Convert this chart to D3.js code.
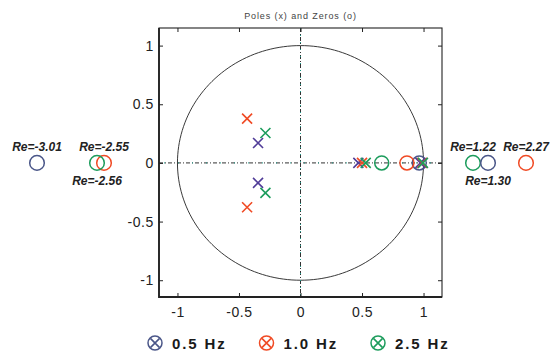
<!DOCTYPE html>
<html>
<head>
<meta charset="utf-8">
<script src="https://cdn.jsdelivr.net/npm/d3@7/dist/d3.min.js"></script>
<style>
  html, body { margin: 0; padding: 0; background: #fff; }
  svg { display: block; font-family: "Liberation Sans", Arial, sans-serif; }
</style>
</head>
<body>
<svg id="chart" width="553" height="354"></svg>
<script>
// Filter designs
const seriesNames = ["0.5 Hz", "1.0 Hz", "2.5 Hz"];
const seriesColors = ["#4a5688", "#f04a24", "#1c9c5c"];
const poleColors = ["#503c98", "#f04a24", "#1c9c5c"];

// Poles [re, im] per design
const poles05 = [[-0.345, 0.17], [-0.345, -0.17], [0.47, 0], [0.975, 0]];
const poles10 = [[-0.434, 0.378], [-0.434, -0.378], [0.50, 0], [0.99, 0]];
const poles25 = [[-0.285, 0.255], [-0.285, -0.255], [0.53, 0], [0.995, 0]];

// Zeros inside the plotted range [re, im]
const zeros05 = [[0.965, 0]];
const zeros10 = [[0.865, 0]];
const zeros25 = [[0.66, 0]];

// Zeros far outside the unit circle (real axis), shown in the margins
const outerZeroSeries = [0, 2, 1, 2, 0, 1];
const outerZeroRe = [-3.01, -2.56, -2.55, 1.22, 1.30, 2.27];

const xTicks = [-1, -0.5, 0, 0.5, 1];
const yTicks = [-1, -0.5, 0, 0.5, 1];
const titleText = "Poles (x) and Zeros (o)";

const poles = [poles05, poles10, poles25];
const zeros = [zeros05, zeros10, zeros25];

const svg = d3.select("#chart");
const box = { left: 159, right: 442, top: 28, bottom: 297 };

const x = d3.scaleLinear().domain([-1.15, 1.15]).range([box.left, box.right]);
const y = d3.scaleLinear().domain([-1.143, 1.15]).range([box.bottom, box.top]);

// Title
svg.append("text")
  .attr("x", x(0)).attr("y", 19)
  .attr("text-anchor", "middle")
  .attr("font-size", 9).attr("letter-spacing", 0.9)
  .attr("fill", "#444")
  .text(titleText);

// Unit circle
const circlePts = d3.range(0, 361, 2).map(a => [Math.cos(a * Math.PI / 180), Math.sin(a * Math.PI / 180)]);
svg.append("path")
  .attr("d", d3.line().x(d => x(d[0])).y(d => y(d[1]))(circlePts))
  .attr("fill", "none").attr("stroke", "#222").attr("stroke-width", 0.9);

// Real and imaginary axes through the origin
svg.append("line")
  .attr("x1", x(-1.15)).attr("x2", x(1.15)).attr("y1", y(0)).attr("y2", y(0))
  .attr("stroke", "#333").attr("stroke-width", 1).attr("stroke-dasharray", "4,2,1,2");
svg.append("line")
  .attr("x1", x(-1.15)).attr("x2", x(1.15)).attr("y1", y(0)).attr("y2", y(0))
  .attr("stroke", "#1a9a8a").attr("stroke-width", 1).attr("stroke-dasharray", "1,13").attr("stroke-dashoffset", -5);
svg.append("line")
  .attr("x1", x(0)).attr("x2", x(0)).attr("y1", y(1.15)).attr("y2", y(-1.143))
  .attr("stroke", "#333").attr("stroke-width", 1).attr("stroke-dasharray", "4,2,1,2");
svg.append("line")
  .attr("x1", x(0)).attr("x2", x(0)).attr("y1", y(1.15)).attr("y2", y(-1.143))
  .attr("stroke", "#1a9a8a").attr("stroke-width", 1).attr("stroke-dasharray", "1,6");

// Axes with inward ticks on all four sides
const tickFmt = d => d === 0 ? "0" : String(d);
function styleAxis(g) {
  g.select(".domain").remove();
  g.selectAll(".tick line").attr("stroke", "#222").attr("stroke-width", 1);
  g.selectAll(".tick text").attr("font-size", 14).attr("fill", "#222")
    .attr("font-family", "Liberation Sans, Arial, sans-serif").attr("letter-spacing", 0.6);
}
svg.append("g").attr("transform", `translate(0,${box.bottom})`)
  .call(d3.axisBottom(x).tickValues(xTicks).tickFormat(tickFmt).tickSizeInner(-4).tickSizeOuter(0).tickPadding(10))
  .call(styleAxis);
svg.append("g").attr("transform", `translate(0,${box.top})`)
  .call(d3.axisTop(x).tickValues(xTicks).tickFormat("").tickSizeInner(-4).tickSizeOuter(0))
  .call(styleAxis);
svg.append("g").attr("transform", `translate(${box.left},0)`)
  .call(d3.axisLeft(y).tickValues(yTicks).tickFormat(tickFmt).tickSizeInner(-4).tickSizeOuter(0).tickPadding(5))
  .call(styleAxis);
svg.append("g").attr("transform", `translate(${box.right},0)`)
  .call(d3.axisRight(y).tickValues(yTicks).tickFormat("").tickSizeInner(-4).tickSizeOuter(0))
  .call(styleAxis);

// Frame
svg.append("rect")
  .attr("x", box.left).attr("y", box.top)
  .attr("width", box.right - box.left).attr("height", box.bottom - box.top)
  .attr("fill", "none").attr("stroke", "#222").attr("stroke-width", 1.1);
svg.append("path")
  .attr("d", `M${box.left},${box.top}V${box.bottom}H${box.right}`)
  .attr("fill", "none").attr("stroke", "#222").attr("stroke-width", 1.8);

// Markers
const R = 7, X = 5;
function drawCross(g, cx, cy, color, s) {
  g.append("path")
    .attr("d", `M${cx - s},${cy - s}L${cx + s},${cy + s}M${cx - s},${cy + s}L${cx + s},${cy - s}`)
    .attr("stroke", color).attr("stroke-width", 1.6).attr("fill", "none");
}
function drawRing(g, cx, cy, color, r) {
  g.append("circle").attr("cx", cx).attr("cy", cy).attr("r", r)
    .attr("fill", "none").attr("stroke", color).attr("stroke-width", 1.5);
}

const marks = svg.append("g");
zeros.forEach((zs, i) => zs.forEach(z => drawRing(marks, x(z[0]), y(z[1]), seriesColors[i], R)));
poles.forEach((ps, i) => ps.forEach(p => drawCross(marks, x(p[0]), y(p[1]), poleColors[i], X)));

// Margin zeros: each side gets its own compressed scale; the zero nearest the
// plot stays put and the others are pushed outward so they stay readable
const outer = outerZeroRe.map((re, i) => ({ re, s: outerZeroSeries[i] }));
const leftZ = outer.filter(d => d.re < 0).sort((a, b) => b.re - a.re);   // innermost first
const rightZ = outer.filter(d => d.re > 0).sort((a, b) => a.re - b.re);  // innermost first
const xLeft = d3.scaleLinear().domain([-3.01, -2.55]).range([37, 104]);
const xRight = d3.scaleLinear().domain([1.22, 2.27]).range([473, 526]);

function placeSide(list, scale, gap, dir) {
  list.forEach(d => { d.px = scale(d.re); });
  for (let k = 1; k < list.length; k++) {
    if ((list[k].px - list[k - 1].px) * dir < gap) list[k].px = list[k - 1].px + dir * gap;
  }
}
placeSide(leftZ, xLeft, 7, -1);
placeSide(rightZ, xRight, 15, 1);

// Labels alternate above/below going outward from the leftmost zero on each side
function labelSide(list) {
  const ordered = list.slice().sort((a, b) => a.px - b.px);
  ordered.forEach((d, k) => { d.above = k % 2 === 0; });
}
labelSide(leftZ);
labelSide(rightZ);

const outerG = svg.append("g");
[...leftZ, ...rightZ].forEach(d => {
  drawRing(outerG, d.px, y(0), seriesColors[d.s], 7.3);
  const t = outerG.append("text")
    .attr("y", d.above ? y(0) - 12 : y(0) + 22)
    .attr("font-size", 12).attr("font-weight", "bold").attr("font-style", "italic")
    .attr("fill", "#222")
    .text(`Re=${d.re.toFixed(2)}`);
  const w = t.node().getComputedTextLength();
  let tx = d.px - w / 2;
  tx = Math.max(4, Math.min(553 - 4 - w, tx));
  t.attr("x", tx);
});

// Legend
const legend = svg.append("g");
const legendX = d3.scalePoint().domain(seriesNames).range([155, 378]);
seriesNames.forEach((name, i) => {
  const cx = legendX(name), cy = 343;
  drawRing(legend, cx, cy, seriesColors[i], 7);
  drawCross(legend, cx, cy, seriesColors[i], 4.6);
  legend.append("text")
    .attr("x", cx + 17).attr("y", cy + 6)
    .attr("font-size", 15).attr("font-weight", "bold").attr("letter-spacing", 1.9)
    .attr("fill", "#1a1a1a")
    .text(name);
});
</script>
</body>
</html>
